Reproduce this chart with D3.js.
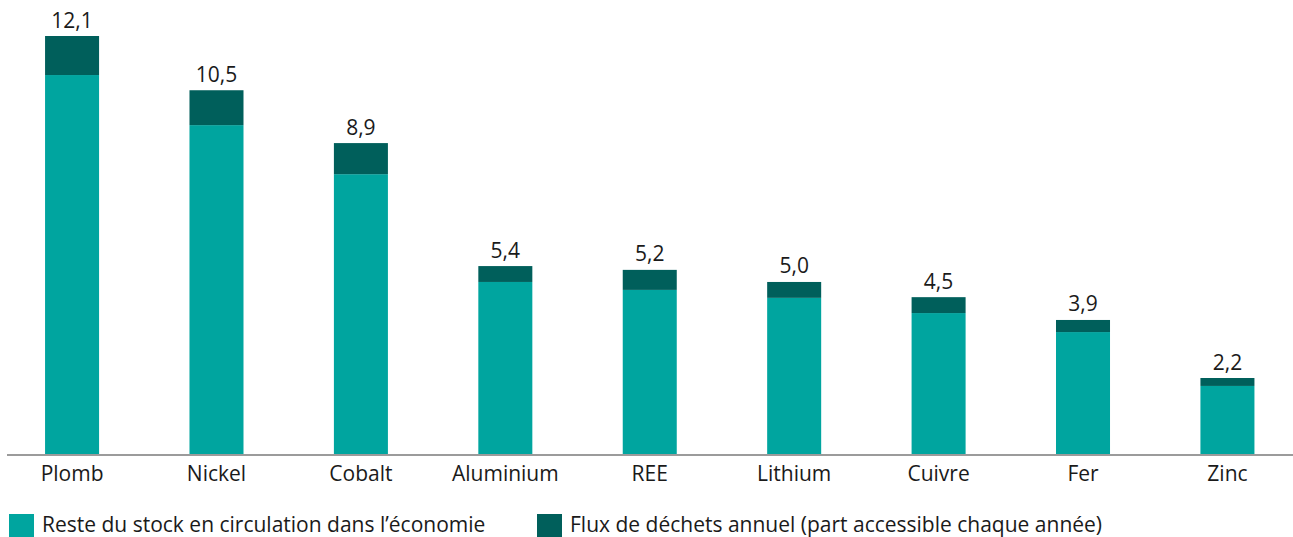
<!DOCTYPE html>
<html><head><meta charset="utf-8">
<script src="https://cdn.jsdelivr.net/npm/d3@7"></script>
<style>
html,body{margin:0;padding:0;background:#fff;}
svg{display:block;font-family:"Open Sans","Noto Sans",sans-serif;}
</style></head>
<body>
<svg id="chart" width="1293" height="537"></svg>
<script>
const categories = ["Plomb","Nickel","Cobalt","Aluminium","REE","Lithium","Cuivre","Fer","Zinc"];
const stockValues = [10.97, 9.52, 8.10, 4.98, 4.75, 4.52, 4.08, 3.53, 1.97];
const wasteValues = [1.13, 1.01, 0.90, 0.46, 0.58, 0.46, 0.46, 0.35, 0.23];
const totalLabels = ["12,1","10,5","8,9","5,4","5,2","5,0","4,5","3,9","2,2"];
const seriesNames = ["Reste du stock en circulation dans l’économie","Flux de déchets annuel (part accessible chaque année)"];
const colors = ["#00a59f","#005f5b"];

const svg = d3.select("#chart");
const rows = categories.map((c,i)=>({cat:c, stock:stockValues[i], waste:wasteValues[i], label:totalLabels[i]}));
const stack = d3.stack().keys(["stock","waste"])(rows);

const x = d3.scaleBand().domain(categories).range([6.5,1293]).paddingInner(0.626).paddingOuter(0.267);
const maxTotal = d3.max(rows, d=>d.stock+d.waste);
const y = d3.scaleLinear().domain([0,maxTotal]).range([454,36]);

svg.append("g").selectAll("g").data(stack).join("g")
  .attr("fill",(d,i)=>colors[i])
  .selectAll("rect").data(d=>d).join("rect")
  .attr("x",d=>x(d.data.cat))
  .attr("width",x.bandwidth())
  .attr("y",d=>y(d[1]))
  .attr("height",d=>y(d[0])-y(d[1]));

svg.append("g").selectAll("text").data(rows).join("text")
  .attr("x",d=>x(d.cat)+x.bandwidth()/2)
  .attr("y",d=>y(d.stock+d.waste)-8.5)
  .attr("text-anchor","middle")
  .attr("font-size",21)
  .attr("fill","#1a1a1a")
  .text(d=>d.label);

const axis = svg.append("g").attr("transform","translate(0,454.5)")
  .call(d3.axisBottom(x).tickSize(0).tickSizeOuter(0).tickPadding(11.5));
axis.select(".domain").attr("stroke","#7a7a7a").attr("stroke-width",1.5);
axis.selectAll("text").attr("font-size",21).attr("fill","#1a1a1a").attr("font-family","Open Sans, Noto Sans, sans-serif");

const legendX = [9, 537];
const leg = svg.append("g").selectAll("g").data(seriesNames).join("g")
  .attr("transform",(d,i)=>`translate(${legendX[i]},514)`);
leg.append("rect").attr("width",25).attr("height",25).attr("fill",(d,i)=>colors[i]);
leg.append("text").attr("x",33).attr("y",17.5).attr("font-size",21).attr("fill","#1a1a1a").text(d=>d);
</script>
</body></html>
